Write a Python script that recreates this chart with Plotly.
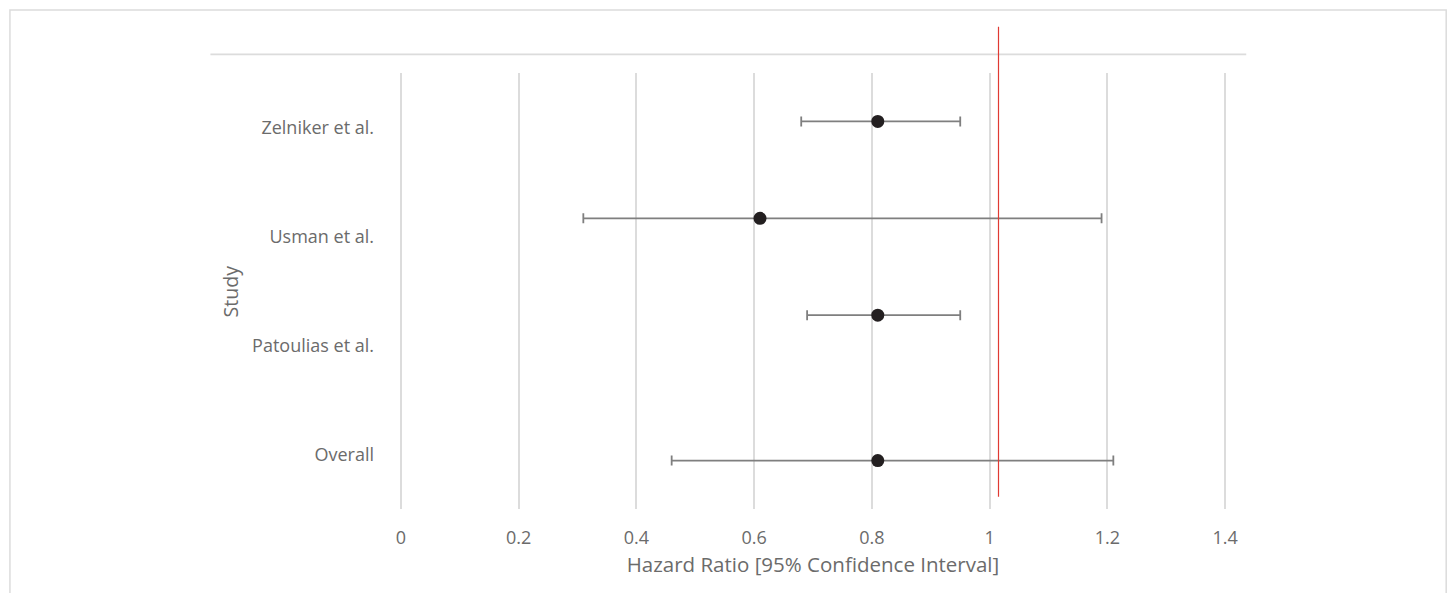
import plotly.graph_objects as go

# ---- data ----
studies = ["Zelniker et al.", "Usman et al.", "Patoulias et al.", "Overall"]
hr = [0.81, 0.61, 0.81, 0.81]
ci_low = [0.68, 0.31, 0.69, 0.46]
ci_high = [0.95, 1.19, 0.95, 1.21]
row_y = [4, 3, 2, 0.5]
ref_line_x = 1.015
x_ticks = [0, 0.2, 0.4, 0.6, 0.8, 1.0, 1.2, 1.4]
Y_MAX = 4.5

# category label positions (evenly spaced category axis)
label_order = ["Overall", "Patoulias et al.", "Usman et al.", "Zelniker et al."]
label_pos = [(i + 0.5) * Y_MAX / len(label_order) for i in range(len(label_order))]

err_plus = [h - hrv for h, hrv in zip(ci_high, hr)]
err_minus = [hrv - l for l, hrv in zip(ci_low, hr)]

FONT = "'Open Sans', Lato, sans-serif"
GRAY_TXT = "#6b6b6b"
GRID = "#dcdcdc"

fig = go.Figure()
fig.add_trace(go.Scatter(
    x=hr, y=row_y, mode="markers",
    marker=dict(color="#231f20", size=13),
    error_x=dict(type="data", symmetric=False, array=err_plus, arrayminus=err_minus,
                 color="#7f7f7f", thickness=1.8, width=5),
    showlegend=False, hoverinfo="x+y",
))

W, H = 1450, 593
PAD = 0.003  # tiny range padding so edge gridlines are drawn
x0_px, x1_px = 400.4, 1225.0
px_per_unit = (x1_px - x0_px) / 1.4
L = x0_px - PAD * px_per_unit
R = W - (x1_px + PAD * px_per_unit)
T, B = 73, 84
pw, ph = W - L - R, H - T - B

def px_to_paper_x(px):
    return (px - L) / pw

def px_to_paper_y(py):
    return (H - B - py) / ph

shapes = [
    # outer chart border (bottom runs off canvas)
    dict(type="rect", xref="paper", yref="paper",
         x0=px_to_paper_x(9.5), x1=px_to_paper_x(1446), y0=px_to_paper_y(605), y1=px_to_paper_y(10),
         line=dict(color=GRID, width=1.5), fillcolor="rgba(0,0,0,0)", layer="below"),
    # top horizontal line
    dict(type="line", xref="paper", yref="paper",
         x0=px_to_paper_x(210), x1=px_to_paper_x(1246), y0=px_to_paper_y(54.3), y1=px_to_paper_y(54.3),
         line=dict(color=GRID, width=1.8)),
    # reference line
    dict(type="line", xref="x", yref="paper",
         x0=ref_line_x, x1=ref_line_x, y0=px_to_paper_y(496.7), y1=px_to_paper_y(26.7),
         line=dict(color="#e03a33", width=1.2)),
]

fig.update_layout(
    width=W, height=H,
    margin=dict(l=L, r=R, t=T, b=B, autoexpand=False),
    paper_bgcolor="white", plot_bgcolor="white",
    font=dict(family=FONT, color=GRAY_TXT, size=18),
    shapes=shapes,
    xaxis=dict(range=[-PAD, 1.4 + PAD], tickvals=x_ticks, ticktext=[f"{v:g}" for v in x_ticks],
               showgrid=True, gridcolor=GRID, gridwidth=1.8, zeroline=False, showline=False,
               ticks="", ticklabelstandoff=16, tickfont=dict(size=18, color=GRAY_TXT),
               title=dict(text="Hazard Ratio [95% Confidence Interval]", standoff=9,
                          font=dict(size=20.5, color=GRAY_TXT))),
    yaxis=dict(range=[0, Y_MAX], tickvals=label_pos, ticktext=label_order,
               showgrid=False, zeroline=False, showline=False, ticks="",
               ticklabelstandoff=24, tickfont=dict(size=18, color=GRAY_TXT)),
    annotations=[dict(text="Study", xref="paper", yref="paper",
                      x=px_to_paper_x(230), y=0.5, textangle=-90, showarrow=False,
                      font=dict(size=19.5, color=GRAY_TXT), xanchor="center", yanchor="middle")],
)

fig.write_html("out.html", config={"displayModeBar": False},
               post_script="document.body.style.margin='0';document.body.style.padding='0';")
